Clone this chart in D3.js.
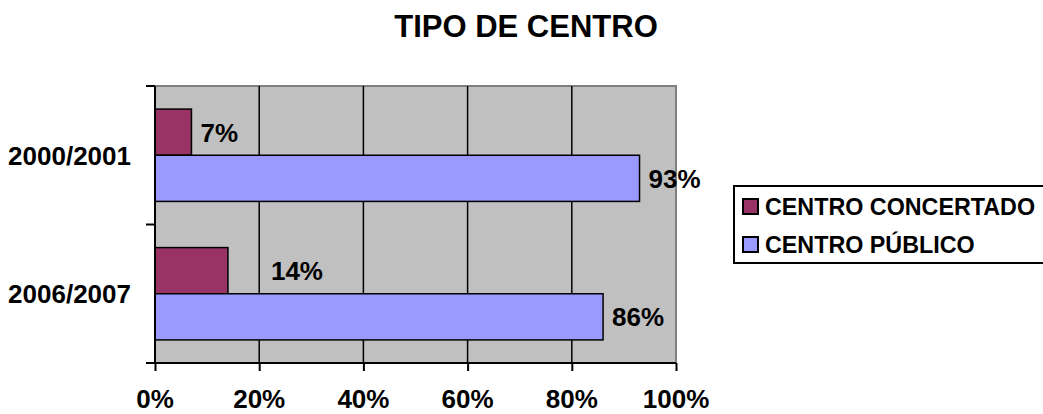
<!DOCTYPE html>
<html>
<head>
<meta charset="utf-8">
<script src="https://cdn.jsdelivr.net/npm/d3@7"></script>
<style>
  body { margin: 0; background: #fff; }
  text { font-family: "Liberation Sans", Arial, sans-serif; font-weight: bold; fill: #000; }
</style>
</head>
<body>
<script>
const title = 'TIPO DE CENTRO';
const categories = ['2000/2001', '2006/2007'];
const series = ['CENTRO CONCERTADO', 'CENTRO PÚBLICO'];
const concertado = [7, 14];
const publico = [93, 86];
const xTicks = [0, 20, 40, 60, 80, 100];

const colors = { 'CENTRO CONCERTADO': '#993366', 'CENTRO PÚBLICO': '#9999FF' };
// the 14% label sits further right in the original
const labelNudge = { '2006/2007|CENTRO CONCERTADO': 34 };

const rows = [];
categories.forEach((c, i) => {
    rows.push({ cat: c, s: series[0], v: concertado[i] });
    rows.push({ cat: c, s: series[1], v: publico[i] });
});

const width = 1043, height = 414;
const svg = d3.select('body').append('svg')
    .attr('width', width)
    .attr('height', height);

const x = d3.scaleLinear().domain([0, 100]).range([155, 676]);
const y = d3.scaleBand().domain(categories).range([86, 363]).paddingInner(0);
const y1 = d3.scaleBand().domain(series).range([0, y.bandwidth()]).paddingInner(0).paddingOuter(0.5);

// plot area
svg.append('rect')
    .attr('x', x(0)).attr('y', y.range()[0])
    .attr('width', x(100) - x(0)).attr('height', y.range()[1] - y.range()[0])
    .attr('fill', '#C0C0C0')
    .attr('stroke', '#808080')
    .attr('stroke-width', 2);

// gridlines
svg.append('g').selectAll('line')
    .data(xTicks.filter(t => t > 0 && t < 100))
    .join('line')
    .attr('x1', d => x(d)).attr('x2', d => x(d))
    .attr('y1', y.range()[0]).attr('y2', y.range()[1])
    .attr('stroke', '#000').attr('stroke-width', 1.5);

// bars
svg.append('g').selectAll('rect')
    .data(rows)
    .join('rect')
    .attr('x', x(0))
    .attr('y', d => y(d.cat) + y1(d.s))
    .attr('width', d => x(d.v) - x(0))
    .attr('height', y1.bandwidth())
    .attr('fill', d => colors[d.s])
    .attr('stroke', '#000')
    .attr('stroke-width', 1.5);

// value labels
svg.append('g').selectAll('text')
    .data(rows)
    .join('text')
    .attr('x', d => x(d.v) + 9 + (labelNudge[d.cat + '|' + d.s] || 0))
    .attr('y', d => y(d.cat) + y1(d.s) + y1.bandwidth() / 2 + 9.5)
    .attr('font-size', 26)
    .text(d => d.v + '%');

// x axis
const xAxis = svg.append('g')
    .attr('transform', `translate(0,${y.range()[1]})`)
    .call(d3.axisBottom(x).tickValues(xTicks).tickSize(8).tickSizeOuter(0).tickFormat(''));
xAxis.select('.domain').attr('stroke', '#000').attr('stroke-width', 2).attr('d', `M${x(0) - 8},0H${x(100)}`);
xAxis.selectAll('.tick line').attr('stroke', '#000').attr('stroke-width', 2);

svg.append('g').selectAll('text')
    .data(xTicks)
    .join('text')
    .attr('x', d => x(d))
    .attr('y', 408)
    .attr('text-anchor', 'middle')
    .attr('font-size', 26)
    .text(d => d + '%');

// y axis
const yEdges = [y.range()[0], ...categories.map(c => y(c) + y.bandwidth())];
svg.append('line')
    .attr('x1', x(0)).attr('x2', x(0))
    .attr('y1', y.range()[0]).attr('y2', y.range()[1])
    .attr('stroke', '#000').attr('stroke-width', 2);
svg.append('g').selectAll('line')
    .data(yEdges)
    .join('line')
    .attr('x1', x(0) - 9).attr('x2', x(0))
    .attr('y1', d => d).attr('y2', d => d)
    .attr('stroke', '#000').attr('stroke-width', 2);

svg.append('g').selectAll('text')
    .data(categories)
    .join('text')
    .attr('x', 131)
    .attr('y', d => y(d) + y.bandwidth() / 2 + 9.5)
    .attr('text-anchor', 'end')
    .attr('font-size', 26)
    .text(d => d);

// title
svg.append('text')
    .attr('x', 526)
    .attr('y', 37)
    .attr('text-anchor', 'middle')
    .attr('font-size', 31)
    .text(title);

// legend
const legend = svg.append('g');
legend.append('rect')
    .attr('x', 734).attr('y', 186)
    .attr('width', 330).attr('height', 77)
    .attr('fill', '#fff')
    .attr('stroke', '#000').attr('stroke-width', 2);
const item = legend.selectAll('g.item')
    .data(series)
    .join('g')
    .attr('class', 'item')
    .attr('transform', (d, i) => `translate(743,${199 + i * 38})`);
item.append('rect')
    .attr('width', 15).attr('height', 15)
    .attr('fill', d => colors[d])
    .attr('stroke', '#000').attr('stroke-width', 2);
item.append('text')
    .attr('x', 22).attr('y', 16)
    .attr('font-size', 23.3)
    .text(d => d);
</script>
</body>
</html>
